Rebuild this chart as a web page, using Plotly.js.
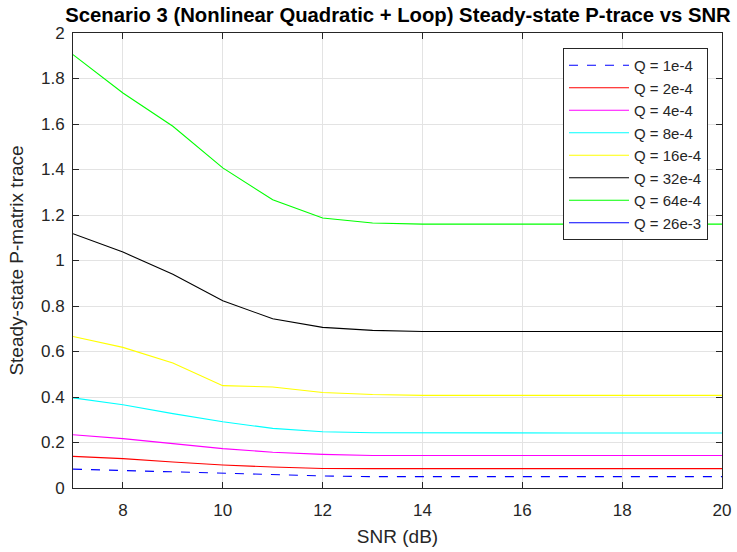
<!DOCTYPE html>
<html>
<head>
<meta charset="utf-8">
<script src="https://cdn.plot.ly/plotly-3.0.1.min.js"></script>
<style>
  html, body { margin: 0; padding: 0; background: #fff; }
  #chart { width: 737px; height: 552px; }
</style>
</head>
<body>
<div id="chart"></div>
<script>
// SNR sweep (dB)
const snr = [7, 8, 9, 10, 11, 12, 13, 14, 15, 16, 17, 18, 19, 20];

// Steady-state trace of P for each process-noise level Q
const q1e4  = [0.083, 0.077, 0.069, 0.062, 0.057, 0.053, 0.050, 0.050, 0.050, 0.050, 0.050, 0.050, 0.050, 0.050];
const q2e4  = [0.139, 0.129, 0.114, 0.101, 0.092, 0.086, 0.085, 0.085, 0.085, 0.085, 0.085, 0.085, 0.085, 0.085];
const q4e4  = [0.234, 0.217, 0.195, 0.173, 0.157, 0.148, 0.143, 0.143, 0.143, 0.143, 0.143, 0.143, 0.143, 0.143];
const q8e4  = [0.396, 0.366, 0.327, 0.291, 0.262, 0.247, 0.243, 0.242, 0.242, 0.242, 0.242, 0.242, 0.242, 0.242];
const q16e4 = [0.666, 0.618, 0.549, 0.450, 0.444, 0.420, 0.411, 0.407, 0.407, 0.407, 0.407, 0.407, 0.407, 0.407];
const q32e4 = [1.118, 1.037, 0.940, 0.823, 0.744, 0.706, 0.693, 0.688, 0.688, 0.688, 0.688, 0.688, 0.688, 0.688];
const q64e4 = [1.905, 1.736, 1.590, 1.407, 1.267, 1.187, 1.165, 1.160, 1.160, 1.160, 1.160, 1.160, 1.160, 1.160];
const q26e3 = [null, null, null, null, null, null, null, null, null, null, null, null, null, null];

const seriesNames = ['Q = 1e-4', 'Q = 2e-4', 'Q = 4e-4', 'Q = 8e-4', 'Q = 16e-4', 'Q = 32e-4', 'Q = 64e-4', 'Q = 26e-3'];
const seriesData = [q1e4, q2e4, q4e4, q8e4, q16e4, q32e4, q64e4, q26e3];
const seriesColors = ['#0000ff', '#ff0000', '#ff00ff', '#00ffff', '#ffff00', '#000000', '#00ff00', '#0000ff'];
const seriesDash = ['dash', 'solid', 'solid', 'solid', 'solid', 'solid', 'solid', 'solid'];

const yTicks = [0, 0.2, 0.4, 0.6, 0.8, 1, 1.2, 1.4, 1.6, 1.8, 2];
const yTickText = ['0', '0.2', '0.4', '0.6', '0.8', '1', '1.2', '1.4', '1.6', '1.8', '2'];
const xTicks = [8, 10, 12, 14, 16, 18, 20];

const traces = seriesData.map((ys, i) => ({
  x: snr,
  y: ys,
  type: 'scatter',
  mode: 'lines',
  name: seriesNames[i],
  line: { color: seriesColors[i], width: 1.1, dash: seriesDash[i] },
  connectgaps: false
}));

const FAMILY = 'Liberation Sans, Arial, sans-serif';
const axisFont = { family: FAMILY, size: 17, color: '#262626' };
const labelFont = { family: FAMILY, size: 19, color: '#262626' };

const layout = {
  width: 737,
  height: 552,
  margin: { l: 73, r: 15, t: 33, b: 64 },
  paper_bgcolor: '#ffffff',
  plot_bgcolor: '#ffffff',
  font: axisFont,
  title: {
    text: '<b>Scenario 3 (Nonlinear Quadratic + Loop) Steady-state P-trace vs SNR</b>',
    font: { family: FAMILY, size: 20.3, color: '#000000' },
    x: 398 / 737, xanchor: 'center',
    y: 1 - 15 / 552, yanchor: 'middle'
  },
  xaxis: {
    range: [7, 20],
    tickvals: xTicks,
    ticks: 'inside',
    ticklen: 6,
    tickcolor: '#262626',
    showline: true,
    linecolor: '#262626',
    linewidth: 1,
    mirror: 'ticks',
    showgrid: true,
    gridcolor: '#e3e3e3',
    zeroline: false,
    tickfont: axisFont,
    ticklabelstandoff: 7,
    title: { text: 'SNR (dB)', font: labelFont, standoff: 10 }
  },
  yaxis: {
    range: [0, 2],
    tickvals: yTicks,
    ticktext: yTickText,
    ticks: 'inside',
    ticklen: 6,
    tickcolor: '#262626',
    showline: true,
    linecolor: '#262626',
    linewidth: 1,
    mirror: 'ticks',
    showgrid: true,
    gridcolor: '#e3e3e3',
    zeroline: false,
    tickfont: axisFont,
    ticklabelstandoff: 4,
    title: { text: 'Steady-state P-matrix trace', font: labelFont, standoff: 12 }
  },
  legend: {
    x: (708 - 73) / (722 - 73),
    xanchor: 'right',
    y: (488 - 48) / (488 - 33),
    yanchor: 'top',
    bgcolor: '#ffffff',
    bordercolor: '#262626',
    borderwidth: 1,
    font: { family: FAMILY, size: 15, color: '#262626' },
    tracegroupgap: 0,
    itemwidth: 60
  },
  showlegend: true
};

Plotly.newPlot('chart', traces, layout, { staticPlot: true, displayModeBar: false });
</script>
</body>
</html>
